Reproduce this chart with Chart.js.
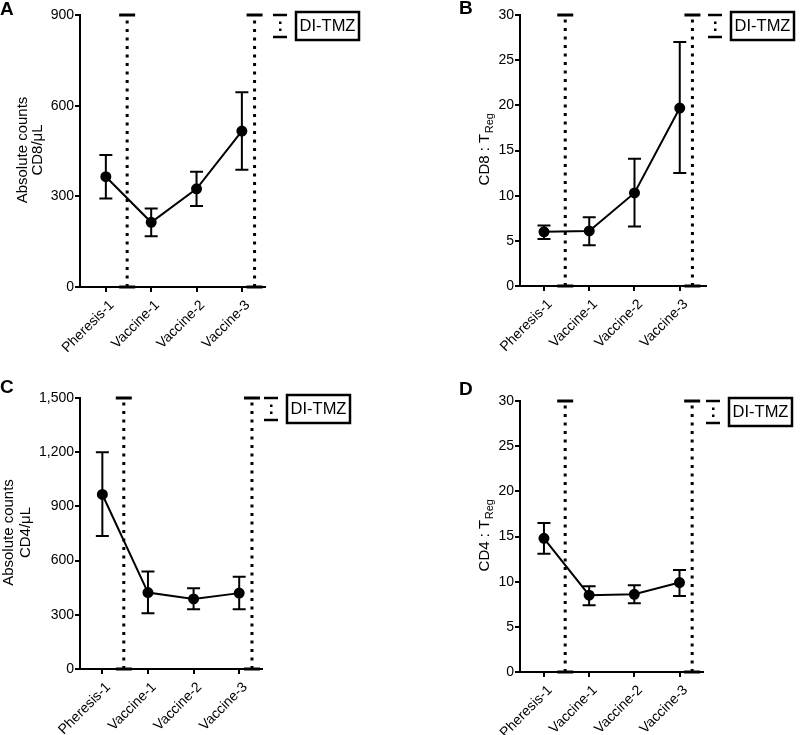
<!DOCTYPE html>
<html>
<head>
<meta charset="utf-8">
<script src="https://cdn.jsdelivr.net/npm/chart.js@4.4.1/dist/chart.umd.min.js"></script>
<style>
	body { margin: 0; background: #fff; }
	#wrap { position: relative; width: 800px; height: 735px; }
	#wrap canvas { position: absolute; }
</style>
</head>
<body>
<div id="wrap">
	<canvas id="chartA" width="400" height="360" style="left:0;top:0"></canvas>
	<canvas id="chartB" width="400" height="360" style="left:400px;top:0"></canvas>
	<canvas id="chartC" width="400" height="375" style="left:0;top:360px"></canvas>
	<canvas id="chartD" width="400" height="375" style="left:400px;top:360px"></canvas>
</div>
<script>
/* -------------------- data -------------------- */

var categories = [ 'Pheresis-1', 'Vaccine-1', 'Vaccine-2', 'Vaccine-3' ];
var dosePositions = [ 0.47, 3.28 ];   // DI-TMZ marks, in category units

var cd8Count      = [ 365, 214, 325, 516 ];
var cd8CountHigh  = [ 437, 260, 381, 644 ];
var cd8CountLow   = [ 293, 168, 268, 388 ];
var cd8CountTicks = [ 0, 300, 600, 900 ];

var cd8Ratio      = [ 6.0, 6.1, 10.3, 19.7 ];
var cd8RatioHigh  = [ 6.7, 7.6, 14.1, 27.0 ];
var cd8RatioLow   = [ 5.2, 4.5, 6.6, 12.5 ];

var cd4Count      = [ 966, 423, 388, 420 ];
var cd4CountHigh  = [ 1200, 539, 447, 510 ];
var cd4CountLow   = [ 736, 309, 331, 331 ];
var cd4CountTicks = [ 0, 300, 600, 900, 1200, 1500 ];

var cd4Ratio      = [ 14.8, 8.5, 8.6, 9.9 ];
var cd4RatioHigh  = [ 16.5, 9.5, 9.6, 11.3 ];
var cd4RatioLow   = [ 13.1, 7.4, 7.6, 8.4 ];

var ratioTicks    = [ 0, 5, 10, 15, 20, 25, 30 ];

/* -------------------- helpers -------------------- */

var FONT = "'Liberation Sans', Arial, sans-serif";

function errorBarsPlugin(high, low) {
	return {
		id: 'errorBars',
		afterDatasetsDraw: function (chart) {
			var xs = chart.scales.x, ys = chart.scales.y, c = chart.ctx;
			c.save();
			c.strokeStyle = '#000';
			c.lineWidth = 2;
			high.forEach(function (hi, i) {
				var px = xs.getPixelForValue(i);
				var top = ys.getPixelForValue(hi);
				var bot = ys.getPixelForValue(low[i]);
				c.beginPath();
				c.moveTo(px, top); c.lineTo(px, bot);
				c.moveTo(px - 6.5, top); c.lineTo(px + 6.5, top);
				c.moveTo(px - 6.5, bot); c.lineTo(px + 6.5, bot);
				c.stroke();
			});
			c.restore();
		}
	};
}

function decorPlugin(p) {
	return {
		id: 'decor',
		afterDraw: function (chart) {
			var c = chart.ctx, a = chart.chartArea;
			c.save();
			c.fillStyle = '#000';
			c.strokeStyle = '#000';

			// panel letter
			c.font = 'bold 19px ' + FONT;
			c.textAlign = 'left';
			c.textBaseline = 'alphabetic';
			c.fillText(p.letter, p.letterX, p.letterY);

			// y title, rotated
			var cy = (a.top + a.bottom) / 2 - 1;
			c.font = '15px ' + FONT;
			c.textAlign = 'center';
			p.title.forEach(function (line, k) {
				c.save();
				c.translate(p.titleX[k], cy);
				c.rotate(-Math.PI / 2);
				if (p.sub) {
					c.font = '15px ' + FONT;
					var w1 = c.measureText(line).width;
					c.font = '11px ' + FONT;
					var w2 = c.measureText(p.sub).width;
					var x0 = -(w1 + w2) / 2;
					c.textAlign = 'left';
					c.font = '15px ' + FONT;
					c.fillText(line, x0, 0);
					c.font = '11px ' + FONT;
					c.fillText(p.sub, x0 + w1 + 0.5, 4);
				} else {
					c.fillText(line, 0, 0);
				}
				c.restore();
			});

			// legend
			var sx = p.legendX, t = a.top;
			c.lineWidth = 2.5;
			c.beginPath();
			c.moveTo(sx, t); c.lineTo(sx + 14, t);
			c.moveTo(sx, t + 22); c.lineTo(sx + 14, t + 22);
			c.stroke();
			c.fillRect(sx + 6, t + 6.5, 2.5, 2.5);
			c.fillRect(sx + 6, t + 13.5, 2.5, 2.5);
			c.strokeRect(sx + 23, t - 3, 63, 28);
			c.font = '16.5px ' + FONT;
			c.textAlign = 'center';
			c.textBaseline = 'middle';
			c.fillText('DI-TMZ', sx + 23 + 31.5, t + 11.5);
			c.restore();
		}
	};
}

function makePanel(id, p) {
	var canvas = document.getElementById(id);
	var ctx = canvas.getContext('2d');
	var H = canvas.height, W = canvas.width;
	var yMax = p.yTicks[p.yTicks.length - 1];

	var datasets = dosePositions.map(function (pos) {
		return {
			data: [ { x: pos, y: 0 }, { x: pos, y: yMax } ],
			showLine: true,
			borderColor: '#000',
			borderWidth: 3,
			borderDash: [ 3, 5.5 ],
			borderCapStyle: 'butt',
			pointStyle: 'line',
			pointRadius: 8,
			pointBorderWidth: 3,
			pointBorderColor: '#000',
			clip: false
		};
	});
	datasets.push({
		data: p.values.map(function (v, i) { return { x: i, y: v }; }),
		showLine: true,
		borderColor: '#000',
		borderWidth: 2,
		pointRadius: 4.5,
		pointBackgroundColor: '#000',
		pointBorderColor: '#000',
		clip: false
	});

	var tickFont = { family: FONT, size: 14 };

	return new Chart(ctx, {
		type: 'scatter',
		data: { datasets: datasets },
		options: {
			responsive: false,
			animation: false,
			layout: {
				padding: { left: 0, right: W - p.area.right, top: p.area.top, bottom: 0 }
			},
			plugins: { legend: { display: false }, tooltip: { enabled: false } },
			scales: {
				x: {
					type: 'linear',
					min: p.xMin,
					max: p.xMax,
					afterBuildTicks: function (s) {
						s.ticks = categories.map(function (c, i) { return { value: i }; });
					},
					afterFit: function (s) { s.height = H - p.area.bottom; },
					ticks: {
						autoSkip: false,
						minRotation: 45,
						maxRotation: 45,
						padding: 5,
						labelOffset: 6,
						color: '#000',
						font: tickFont,
						callback: function (v) { return categories[v]; }
					},
					grid: { drawOnChartArea: false, tickLength: 5, color: '#000', lineWidth: 2 },
					border: { color: '#000', width: 2 }
				},
				y: {
					min: 0,
					max: yMax,
					afterBuildTicks: function (s) {
						s.ticks = p.yTicks.map(function (v) { return { value: v }; });
					},
					afterFit: function (s) { s.width = p.area.left; },
					ticks: {
						padding: 1,
						color: '#000',
						font: tickFont,
						callback: function (v) { return v.toLocaleString('en-US'); }
					},
					grid: { drawOnChartArea: false, tickLength: 5, color: '#000', lineWidth: 2 },
					border: { color: '#000', width: 2 }
				}
			}
		},
		plugins: [ errorBarsPlugin(p.high, p.low), decorPlugin(p) ]
	});
}

/* -------------------- charts -------------------- */

makePanel('chartA', {
	values: cd8Count, high: cd8CountHigh, low: cd8CountLow, yTicks: cd8CountTicks,
	area: { left: 80, right: 265, top: 15, bottom: 287 }, xMin: -0.57, xMax: 3.51,
	letter: 'A', letterX: 0, letterY: 15,
	title: [ 'Absolute counts', 'CD8/\u03bcL' ], titleX: [ 27, 42 ],
	legendX: 273
});

makePanel('chartB', {
	values: cd8Ratio, high: cd8RatioHigh, low: cd8RatioLow, yTicks: ratioTicks,
	area: { left: 120, right: 306, top: 15, bottom: 286 }, xMin: -0.53, xMax: 3.58,
	letter: 'B', letterX: 59, letterY: 14,
	title: [ 'CD8 : T' ], sub: 'Reg', titleX: [ 89 ],
	legendX: 308
});

makePanel('chartC', {
	values: cd4Count, high: cd4CountHigh, low: cd4CountLow, yTicks: cd4CountTicks,
	area: { left: 80, right: 262, top: 38, bottom: 309 }, xMin: -0.49, xMax: 3.5,
	letter: 'C', letterX: 0, letterY: 33,
	title: [ 'Absolute counts', 'CD4/\u03bcL' ], titleX: [ 13, 30 ],
	legendX: 264
});

makePanel('chartD', {
	values: cd4Ratio, high: cd4RatioHigh, low: cd4RatioLow, yTicks: ratioTicks,
	area: { left: 120, right: 303, top: 41, bottom: 312 }, xMin: -0.53, xMax: 3.52,
	letter: 'D', letterX: 59, letterY: 35,
	title: [ 'CD4 : T' ], sub: 'Reg', titleX: [ 89 ],
	legendX: 306
});
</script>
</body>
</html>
